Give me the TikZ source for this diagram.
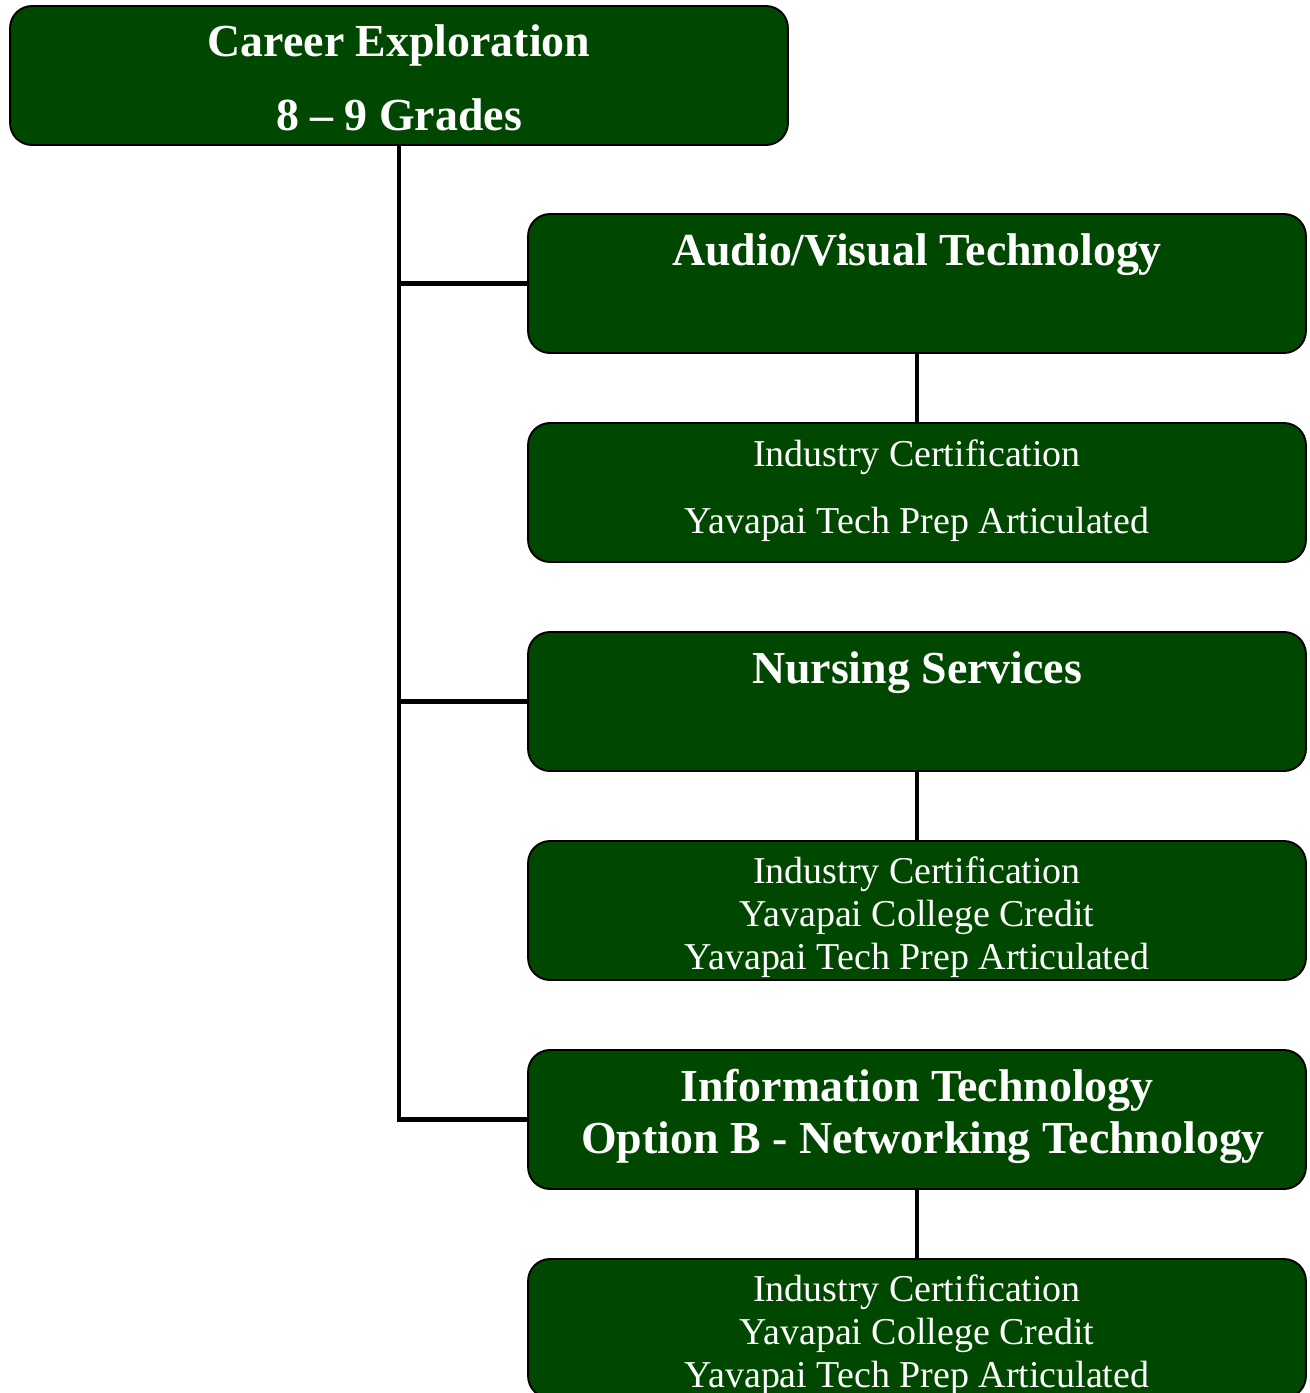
\documentclass[tikz,border=0pt]{standalone}
\usepackage{fontspec}
\setmainfont{Liberation Serif}
\usepackage{tikz}

\definecolor{boxgreen}{RGB}{0,72,0}

\begin{document}
\begin{tikzpicture}[x=0.02cm, y=-0.02cm,
		box/.style={rectangle, rounded corners=0.44cm, draw=black, line width=1.1pt, fill=boxgreen, minimum width=15.56cm, minimum height=2.78cm, inner sep=0pt},
		head/.style={anchor=base, text=white, font=\fontsize{26.1}{30}\selectfont\bfseries, inner sep=0pt},
		body/.style={anchor=base, text=white, font=\fontsize{21.6}{24.4}\selectfont, inner sep=0pt},
		link/.style={line width=2.6pt}]
	\useasboundingbox (0,0) rectangle (1310,1393);
	\clip (0,0) rectangle (1310,1393);

	% top
	\node[box] (top) at (399,75.5) {};
	\node[head] (top1) at (399,56) {Career Exploration};
	\node[head] (top2) at (399,130) {8 -- 9 Grades};

	% Audio/Visual
	\node[box] (av) at (917,283.5) {};
	\node[head] (av1) at (917,265) {Audio/Visual Technology};
	\node[box] (avc) at (917,492.5) {};
	\node[body] (avc1) at (917,466) {Industry Certification};
	\node[body] (avc2) at (917,533) {Yavapai Tech Prep Articulated};

	% Nursing
	\node[box] (ns) at (917,701.5) {};
	\node[head] (ns1) at (917,683) {Nursing Services};
	\node[box] (nsc) at (917,910.5) {};
	\node[body] (nsc1) at (917,883) {Industry Certification};
	\node[body] (nsc2) at (917,926) {Yavapai College Credit};
	\node[body] (nsc3) at (917,969) {Yavapai Tech Prep Articulated};

	% IT
	\node[box] (it) at (917,1119.5) {};
	\node[head] (it1) at (917,1101) {Information Technology};
	\node[head] (it2) at (923,1153) {Option B - Networking Technology};
	\node[box] (itc) at (917,1328.5) {};
	\node[body] (itc1) at (917,1301) {Industry Certification};
	\node[body] (itc2) at (917,1344) {Yavapai College Credit};
	\node[body] (itc3) at (917,1387) {Yavapai Tech Prep Articulated};

	% links
	\draw[link] (top.south) |- (it.west);
	\draw[link] (top.south) |- (av.west);
	\draw[link] (top.south) |- (ns.west);
	\draw[link] (av) -- (avc);
	\draw[link] (ns) -- (nsc);
	\draw[link] (it) -- (itc);
\end{tikzpicture}
\end{document}
